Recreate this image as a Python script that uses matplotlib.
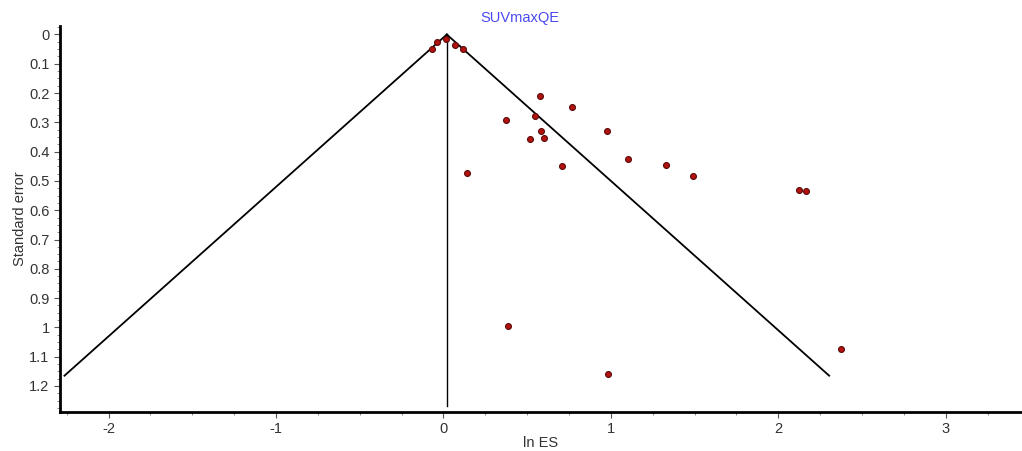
import numpy as np
import matplotlib
matplotlib.use("Agg")
import matplotlib.pyplot as plt
from matplotlib.ticker import MultipleLocator


# ******************************************************************

title = "SUVmaxQE"
x_label = "ln ES"
y_label = "Standard error"

# study effects (ln ES) and their standard errors
ln_es = [-0.071, -0.041, 0.013, 0.066, 0.114,
         0.574, 0.770, 0.373, 0.545, 0.582, 0.977, 0.515, 0.603,
         1.100, 0.706, 1.328, 0.138, 1.491, 2.123, 2.163,
         0.385, 0.985, 2.372]
std_err = [0.050, 0.026, 0.016, 0.036, 0.050,
           0.210, 0.248, 0.293, 0.279, 0.330, 0.330, 0.358, 0.355,
           0.425, 0.450, 0.446, 0.473, 0.483, 0.531, 0.535,
           0.996, 1.160, 1.073]

y_ticks = [0, 0.1, 0.2, 0.3, 0.4, 0.5, 0.6, 0.7, 0.8, 0.9, 1, 1.1, 1.2]

pooled_es = 0.02
se_max = 1.165
z = 1.96

# ******************************************************************

plt.rcParams['font.family'] = ['Liberation Sans', 'DejaVu Sans']
plt.rcParams['axes.unicode_minus'] = False

fig = plt.figure(figsize=(10.22, 4.51), dpi=100)
ax = fig.add_axes([60 / 1022, 1 - 412 / 451, 1 - 60 / 1022, (412 - 26) / 451])

# funnel
se_line = np.array([0, se_max])
ax.plot(pooled_es - z * se_line, se_line, color="black", lw=1.3)
ax.plot(pooled_es + z * se_line, se_line, color="black", lw=1.3)
ax.plot([pooled_es, pooled_es], [0, 1.27], color="black", lw=1.0)

ax.scatter(ln_es, std_err, s=18, color="#b3120f", edgecolors="#5a0a08",
           linewidths=0.8, zorder=3)

ax.set_xlim(-2.29, 3.455)
ax.set_ylim(1.289, -0.029)

ax.xaxis.set_major_locator(MultipleLocator(1))
ax.xaxis.set_minor_locator(MultipleLocator(0.25))
ax.yaxis.set_minor_locator(MultipleLocator(0.025))
ax.set_yticks(y_ticks)
ax.set_yticklabels(["%g" % v for v in y_ticks])

for s in ["top", "right"]:
    ax.spines[s].set_visible(False)
for s in ["left", "bottom"]:
    ax.spines[s].set_linewidth(2)

ax.tick_params(axis="both", which="major", length=4, width=0.8,
               labelsize=10.5, labelcolor="#333333", color="#555555")
ax.tick_params(axis="x", which="major", pad=3)
ax.tick_params(axis="both", which="minor", length=2, width=0.6, color="#777777")

ax.set_xlabel(x_label, fontsize=10.5, color="#333333", labelpad=0)
ax.set_ylabel(y_label, fontsize=10.5, color="#333333", labelpad=1.5)

fig.text(520 / 1022, 1 - 18 / 451, title, color="#4a4af0", fontsize=10.5,
         ha="center", va="center")

fig.savefig("out.png", dpi=100)
